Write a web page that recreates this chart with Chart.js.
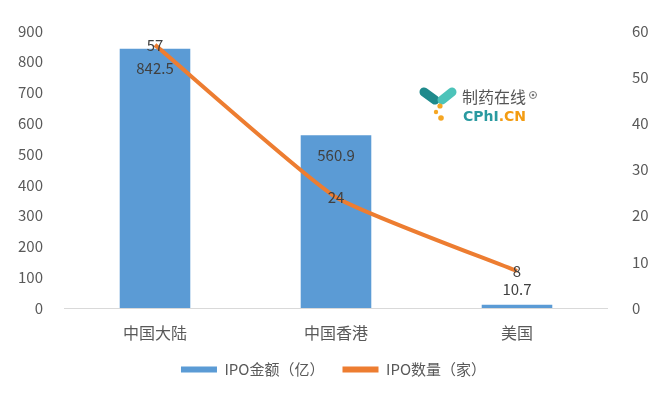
<!DOCTYPE html>
<html>
<head>
<meta charset="utf-8">
<script src="https://cdn.jsdelivr.net/npm/chart.js@4/dist/chart.umd.min.js"></script>
<style>
  html, body { margin: 0; padding: 0; background: #fff; }
  #wrap { width: 667px; height: 397px; }
</style>
</head>
<body>
<div id="wrap"><canvas id="myChart" width="667" height="397"></canvas></div>
<script>
const categories = ['中国大陆', '中国香港', '美国'];
const ipoAmount = [842.5, 560.9, 10.7];
const ipoCount = [57, 24, 8];
const amountTicks = [0, 100, 200, 300, 400, 500, 600, 700, 800, 900];
const countTicks = [0, 10, 20, 30, 40, 50, 60];

const FONT = '"Noto Sans CJK SC", "Microsoft YaHei", sans-serif';
const GREY = '#595959';

// value labels drawn on top of bars and line points
const valueLabels = {
    id: 'valueLabels',
    afterDatasetsDraw(chart) {
        const ctx = chart.ctx;
        ctx.save();
        ctx.font = '15px ' + FONT;
        ctx.fillStyle = '#404040';
        ctx.textAlign = 'center';
        ctx.textBaseline = 'middle';
        chart.data.datasets.forEach((ds, i) => {
            const meta = chart.getDatasetMeta(i);
            meta.data.forEach((el, j) => {
                const v = ds.data[j];
                if (ds.type === 'bar') {
                    const h = el.base - el.y;
                    const y = h > 30 ? el.y + 20 : el.y - 15;
                    ctx.fillText(String(v), el.x, y);
                } else {
                    ctx.fillText(String(v), el.x, el.y);
                }
            });
        });
        ctx.restore();
    }
};

// site watermark
const watermark = {
    id: 'watermark',
    afterDraw(chart) {
        const ctx = chart.ctx;
        ctx.save();
        ctx.lineCap = 'round';
        ctx.lineWidth = 9;
        ctx.strokeStyle = '#1f8a8c';
        ctx.beginPath(); ctx.moveTo(424, 92); ctx.lineTo(435, 100); ctx.stroke();
        ctx.strokeStyle = '#4cc3b9';
        ctx.beginPath(); ctx.moveTo(452, 92); ctx.lineTo(442, 100); ctx.stroke();
        ctx.fillStyle = '#f5a623';
        [[440, 106, 2.6], [436, 112, 2.2], [441, 118, 2.8]].forEach(d => {
            ctx.beginPath(); ctx.arc(d[0], d[1], d[2], 0, Math.PI * 2); ctx.fill();
        });
        ctx.font = '16px ' + FONT;
        ctx.fillStyle = '#555';
        ctx.textBaseline = 'middle';
        ctx.fillText('制药在线', 462, 97);
        ctx.lineWidth = 1;
        ctx.strokeStyle = '#777';
        ctx.beginPath(); ctx.arc(533, 95, 3.5, 0, Math.PI * 2); ctx.stroke();
        ctx.fillStyle = '#777';
        ctx.beginPath(); ctx.arc(533, 95, 1.3, 0, Math.PI * 2); ctx.fill();
        ctx.font = 'bold 14px "DejaVu Sans", sans-serif';
        ctx.fillStyle = '#2a9aa0';
        ctx.fillText('CPhI', 463, 117);
        const w = ctx.measureText('CPhI').width;
        ctx.fillStyle = '#f39c12';
        ctx.fillText('.CN', 463 + w, 117);
        ctx.restore();
    }
};

const ctx = document.getElementById('myChart').getContext('2d');
Chart.defaults.font.family = FONT;
Chart.defaults.font.size = 15;
Chart.defaults.color = GREY;

new Chart(ctx, {
    data: {
        labels: categories,
        datasets: [
            {
                type: 'line',
                label: 'IPO数量（家）',
                data: ipoCount,
                yAxisID: 'y1',
                borderColor: '#ED7D31',
                backgroundColor: '#ED7D31',
                borderWidth: 4,
                pointRadius: 0,
                tension: 0.15,
                order: 0
            },
            {
                type: 'bar',
                label: 'IPO金额（亿）',
                data: ipoAmount,
                yAxisID: 'y',
                backgroundColor: '#5B9BD5',
                categoryPercentage: 1,
                barPercentage: 0.39,
                order: 1
            }
        ]
    },
    options: {
        responsive: false,
        animation: false,
        layout: { padding: { top: 31, bottom: 10, left: 0, right: 0 } },
        plugins: {
            tooltip: { enabled: false },
            legend: {
                position: 'bottom',
                reverse: true,
                labels: {
                    boxWidth: 36,
                    boxHeight: 6,
                    padding: 18,
                    color: GREY,
                    font: { size: 15 },
                    generateLabels(chart) {
                        return Chart.defaults.plugins.legend.labels.generateLabels(chart).map(l => {
                            l.lineWidth = 0;
                            l.strokeStyle = l.fillStyle;
                            return l;
                        });
                    }
                }
            }
        },
        scales: {
            x: {
                grid: { display: false },
                border: { display: true, color: '#d9d9d9' },
                ticks: { color: GREY, padding: 7, font: { size: 16 } },
                afterFit(s) { s.height = 36; }
            },
            y: {
                position: 'left',
                min: 0,
                max: 900,
                afterBuildTicks(s) { s.ticks = amountTicks.map(v => ({ value: v })); },
                grid: { display: false },
                border: { display: false },
                ticks: { color: GREY, padding: 13.5 },
                afterFit(s) { s.width = 64.5; }
            },
            y1: {
                position: 'right',
                min: 0,
                max: 60,
                afterBuildTicks(s) { s.ticks = countTicks.map(v => ({ value: v })); },
                grid: { display: false },
                border: { display: false },
                ticks: { color: GREY, padding: 16.5 },
                afterFit(s) { s.width = 59.5; }
            }
        }
    },
    plugins: [valueLabels, watermark]
});
</script>
</body>
</html>
